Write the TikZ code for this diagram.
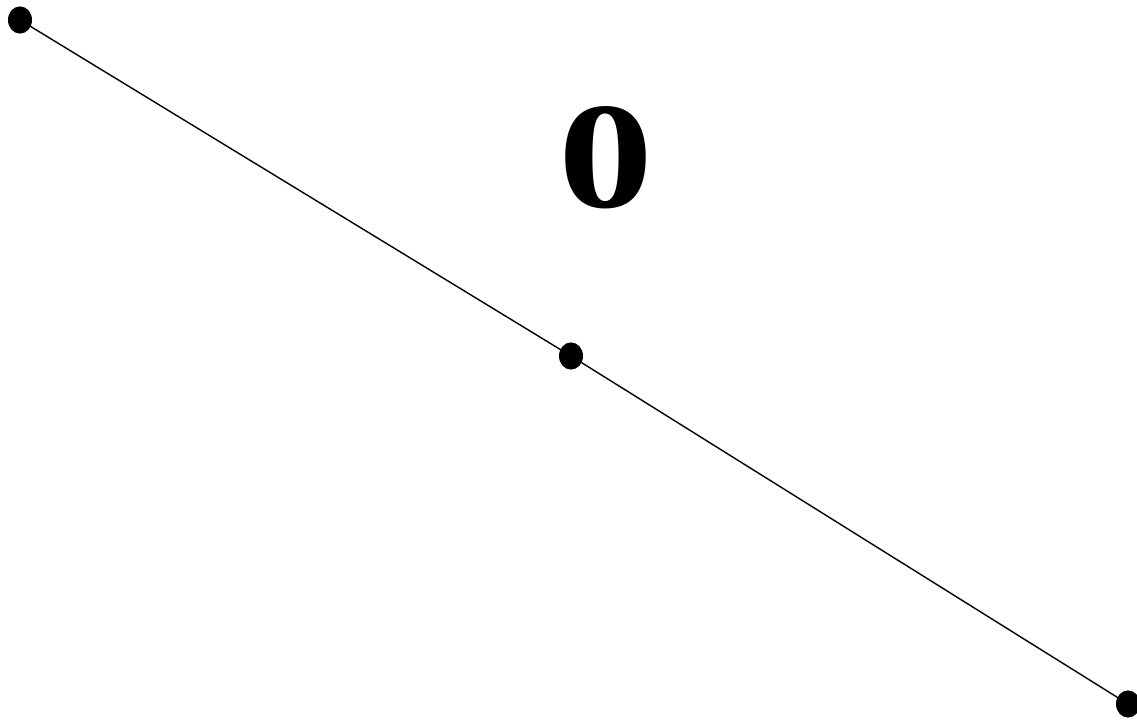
\documentclass[tikz,border=0pt]{standalone}
\usepackage{fontspec}
\setmainfont{Liberation Serif}
\usetikzlibrary{shapes.geometric}

\begin{document}
\begin{tikzpicture}[x=0.025cm, y=-0.025cm,
    dot/.style={ellipse, fill=black, inner sep=0pt, minimum width=0.6cm, minimum height=0.68cm}]
  \useasboundingbox (0, 0) rectangle (1137, 721);

  \node[dot] (A) at (20, 20) {};
  \node[dot] (M) at (571, 356) {};
  \node[dot] (B) at (1128, 704) {};

  \draw[line width=1pt] (A.center) -- (M.center) -- (B.center);

  \node[xscale=1.25] (label) at (606, 158) {\fontsize{108}{108}\selectfont\bfseries 0};
\end{tikzpicture}
\end{document}
